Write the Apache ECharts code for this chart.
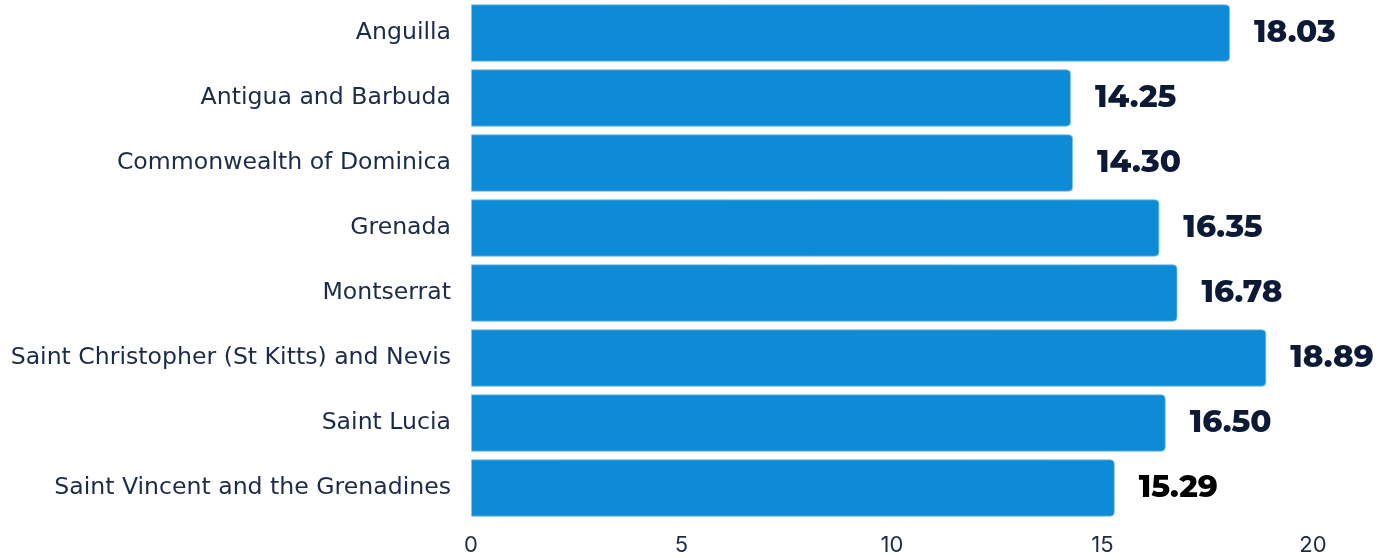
<!DOCTYPE html>
<html>
<head>
<meta charset="utf-8">
<script src="https://cdn.jsdelivr.net/npm/echarts@6/dist/echarts.min.js"></script>
<style>
html,body{margin:0;padding:0;background:#fff;}
#chart{width:1391px;height:557px;}
</style>
</head>
<body>
<div id="chart"></div>
<script>
const categories = [
  "Anguilla",
  "Antigua and Barbuda",
  "Commonwealth of Dominica",
  "Grenada",
  "Montserrat",
  "Saint Christopher (St Kitts) and Nevis",
  "Saint Lucia",
  "Saint Vincent and the Grenadines"
];
const values = [18.03, 14.25, 14.30, 16.35, 16.78, 18.89, 16.50, 15.29];
const labelColors = ["#0c1a36","#0c1a36","#0c1a36","#0c1a36","#0c1a36","#0c1a36","#0c1a36","#000000"];

const chart = echarts.init(document.getElementById('chart'), null, {renderer:'canvas'});
chart.setOption({
  animation: false,
  grid: {left: 471, right: 78, top: 0.5, bottom: 36.5, containLabel: false},
  xAxis: {
    type: 'value', min: 0, max: 20, interval: 5,
    axisLine: {show: false}, axisTick: {show: false}, splitLine: {show: false},
    axisLabel: {color: '#1c2b4a', fontSize: 22, fontFamily: 'Inter', margin: 14}
  },
  yAxis: {
    type: 'category', data: categories, inverse: true,
    axisLine: {show: false}, axisTick: {show: false},
    axisLabel: {color: '#1c2b4a', fontSize: 23.6, fontFamily: 'DejaVu Sans', margin: 20}
  },
  series: [{
    type: 'bar',
    barCategoryGap: '12%',
    data: values.map((v, i) => ({
      value: v,
      label: {color: labelColors[i]}
    })),
    itemStyle: {color: '#0e8bd6', borderRadius: [0, 4, 4, 0], borderColor: '#8cc6ea', borderWidth: 0.8},
    label: {
      show: true, position: 'right', distance: 24,
      formatter: p => p.value.toFixed(2),
      fontSize: 31, fontWeight: 800, fontFamily: 'Montserrat, "Open Sans", Lato, sans-serif'
    }
  }]
});
</script>
</body>
</html>
